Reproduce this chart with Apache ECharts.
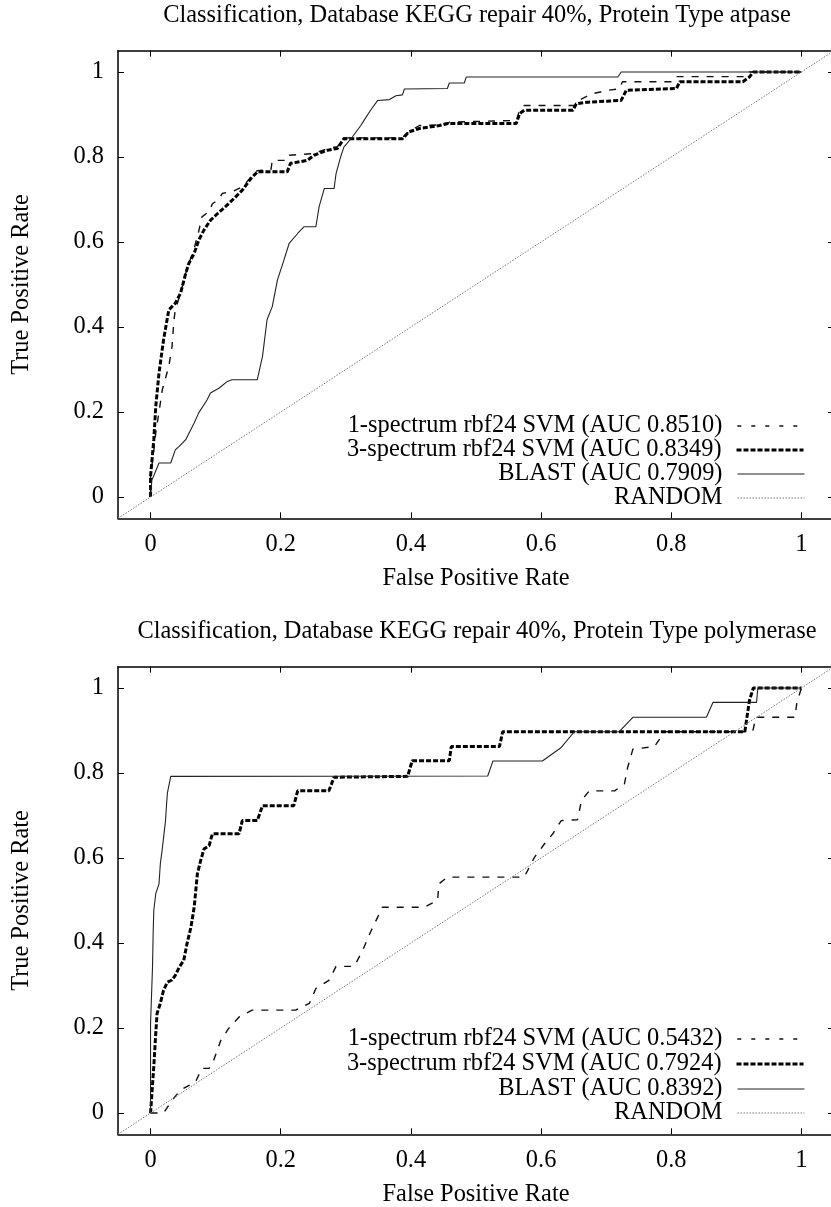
<!DOCTYPE html>
<html>
<head>
<meta charset="utf-8">
<script src="https://cdn.jsdelivr.net/npm/echarts@6/dist/echarts.min.js"></script>
<style>
  html, body { margin: 0; padding: 0; background: #fff; }
  #chart { width: 831px; height: 1207px; }
</style>
</head>
<body>
<div id="chart"></div>
<script>
// tick positions shared by both plots
const tickValues = [0, 0.2, 0.4, 0.6, 0.8, 1];

const titles = [
  "Classification, Database KEGG repair 40%, Protein Type atpase",
  "Classification, Database KEGG repair 40%, Protein Type polymerase",
];
const atpaseNames = [
  "1-spectrum rbf24 SVM (AUC 0.8510)",
  "3-spectrum rbf24 SVM (AUC 0.8349)",
  "BLAST (AUC 0.7909)",
  "RANDOM",
];
const polyNames = [
  "1-spectrum rbf24 SVM (AUC 0.5432)",
  "3-spectrum rbf24 SVM (AUC 0.7924)",
  "BLAST (AUC 0.8392)",
  "RANDOM",
];

// ROC points [false positive rate, true positive rate]
const atpaseSpec1 = [
  [0, 0], [0, 0.05], [0.005, 0.11], [0.008, 0.151], [0.013, 0.2], [0.018, 0.252],
  [0.028, 0.307], [0.033, 0.354], [0.036, 0.417], [0.038, 0.44], [0.046, 0.479],
  [0.054, 0.526], [0.059, 0.55], [0.067, 0.585], [0.074, 0.625], [0.079, 0.659],
  [0.09, 0.672], [0.095, 0.69], [0.105, 0.7], [0.11, 0.714], [0.128, 0.72],
  [0.141, 0.73], [0.154, 0.752], [0.164, 0.768], [0.185, 0.77], [0.187, 0.792],
  [0.21, 0.792], [0.213, 0.804], [0.251, 0.808], [0.272, 0.82], [0.287, 0.824],
  [0.297, 0.845], [0.387, 0.845], [0.397, 0.86], [0.413, 0.874], [0.456, 0.876],
  [0.459, 0.882], [0.562, 0.886], [0.567, 0.91], [0.574, 0.921], [0.652, 0.921],
  [0.66, 0.935], [0.679, 0.949], [0.703, 0.957], [0.72, 0.96], [0.725, 0.977],
  [0.8, 0.977], [0.805, 0.989], [0.915, 0.989], [0.92, 1], [1, 1],
];
const atpaseSpec3 = [
  [0, 0], [0, 0.049], [0.005, 0.135], [0.008, 0.213], [0.013, 0.292], [0.02, 0.37],
  [0.028, 0.44], [0.038, 0.456], [0.046, 0.479], [0.054, 0.526], [0.059, 0.55],
  [0.067, 0.573], [0.074, 0.604], [0.082, 0.628], [0.092, 0.651], [0.103, 0.667],
  [0.115, 0.683], [0.128, 0.702], [0.141, 0.722], [0.154, 0.749], [0.164, 0.765],
  [0.21, 0.765], [0.215, 0.785], [0.241, 0.792], [0.251, 0.804], [0.272, 0.816],
  [0.287, 0.82], [0.297, 0.843], [0.387, 0.843], [0.397, 0.859], [0.413, 0.867],
  [0.444, 0.874], [0.456, 0.879], [0.562, 0.879], [0.567, 0.902], [0.574, 0.91],
  [0.649, 0.91], [0.654, 0.925], [0.672, 0.929], [0.723, 0.933], [0.731, 0.957],
  [0.808, 0.961], [0.813, 0.977], [0.91, 0.977], [0.92, 0.988], [0.926, 1], [1, 1],
];
const atpaseBlast = [
  [0, 0], [0.002, 0.04], [0.005, 0.05], [0.013, 0.08], [0.031, 0.08], [0.038, 0.111],
  [0.044, 0.119], [0.054, 0.135], [0.067, 0.174], [0.074, 0.198], [0.087, 0.229],
  [0.092, 0.245], [0.105, 0.256], [0.118, 0.272], [0.125, 0.276], [0.164, 0.276],
  [0.172, 0.331], [0.179, 0.417], [0.187, 0.448], [0.195, 0.511], [0.205, 0.558],
  [0.213, 0.597], [0.226, 0.62], [0.236, 0.636], [0.254, 0.636], [0.259, 0.683],
  [0.267, 0.726], [0.282, 0.726], [0.285, 0.761], [0.292, 0.8], [0.297, 0.823],
  [0.31, 0.847], [0.323, 0.874], [0.328, 0.886], [0.338, 0.91], [0.349, 0.933],
  [0.367, 0.935], [0.377, 0.944], [0.387, 0.946], [0.39, 0.96], [0.456, 0.961],
  [0.459, 0.974], [0.482, 0.974], [0.485, 0.988], [0.718, 0.988], [0.723, 1], [1, 1],
];

const polySpec1 = [
  [0, 0], [0.02, 0], [0.033, 0.03], [0.046, 0.054], [0.069, 0.073], [0.079, 0.105],
  [0.09, 0.105], [0.097, 0.124], [0.108, 0.171], [0.12, 0.199], [0.136, 0.226],
  [0.156, 0.242], [0.223, 0.242], [0.244, 0.258], [0.254, 0.293], [0.274, 0.312],
  [0.285, 0.345], [0.313, 0.345], [0.326, 0.383], [0.338, 0.426], [0.349, 0.461],
  [0.356, 0.484], [0.42, 0.484], [0.441, 0.5], [0.443, 0.539], [0.456, 0.555],
  [0.574, 0.555], [0.59, 0.602], [0.605, 0.633], [0.618, 0.657], [0.631, 0.688],
  [0.656, 0.69], [0.662, 0.735], [0.674, 0.758], [0.713, 0.758], [0.728, 0.774],
  [0.733, 0.813], [0.741, 0.856], [0.774, 0.862], [0.79, 0.897], [0.925, 0.897],
  [0.93, 0.931], [0.99, 0.931], [0.993, 0.966], [1, 1],
];
const polySpec3 = [
  [0, 0], [0.003, 0], [0.005, 0.109], [0.008, 0.187], [0.01, 0.234], [0.015, 0.258],
  [0.02, 0.289], [0.026, 0.308], [0.033, 0.313], [0.038, 0.324], [0.044, 0.343],
  [0.051, 0.359], [0.056, 0.398], [0.062, 0.437], [0.067, 0.484], [0.072, 0.563],
  [0.077, 0.594], [0.082, 0.621], [0.09, 0.629], [0.095, 0.657], [0.136, 0.657],
  [0.141, 0.688], [0.164, 0.688], [0.172, 0.723], [0.22, 0.723], [0.226, 0.758],
  [0.274, 0.758], [0.282, 0.79], [0.395, 0.792], [0.402, 0.829], [0.459, 0.829],
  [0.462, 0.862], [0.536, 0.862], [0.541, 0.897], [0.913, 0.897], [0.92, 0.97],
  [0.926, 1], [1, 1],
];
const polyBlast = [
  [0, 0], [0, 0.21], [0.003, 0.343], [0.004, 0.422], [0.005, 0.477], [0.008, 0.516],
  [0.013, 0.539], [0.015, 0.586], [0.018, 0.621], [0.02, 0.625], [0.023, 0.688],
  [0.025, 0.735], [0.026, 0.754], [0.028, 0.758], [0.031, 0.792], [0.518, 0.793],
  [0.526, 0.828], [0.602, 0.828], [0.631, 0.86], [0.651, 0.897], [0.72, 0.897],
  [0.741, 0.931], [0.854, 0.931], [0.864, 0.966], [0.931, 0.966], [0.933, 1], [1, 1],
];
const randomLine = [[-0.05, -0.05], [1.05, 1.05]];

const FONT = "'Liberation Serif', 'DejaVu Serif', serif";
const FONT_SIZE = 24.4;
const styles = [
  { color: "#111", width: 1.4, type: [7, 8], legendType: [4, 10] },
  { color: "#000", width: 3, type: [5, 2], legendType: [5, 2] },
  { color: "#222", width: 1.1, type: "solid", legendType: "solid" },
  { color: "#777", width: 1, type: [1.5, 1.5], legendType: [1.5, 1.5] },
];

const gridTops = [50.7, 666.7];
const legendTops = [
  [414, 438, 462, 486],
  [1027, 1052, 1077, 1101],
];

const chart = echarts.init(document.getElementById("chart"));

function baseAxis(gridIndex, position, showLabel) {
  return {
    type: "value",
    gridIndex: gridIndex,
    position: position,
    min: -0.05,
    max: 1.05,
    splitLine: { show: false },
    axisLine: { show: true, onZero: false, lineStyle: { color: "#000", width: 1.5 } },
    axisTick: {
      show: true,
      inside: true,
      length: 6,
      customValues: tickValues,
      lineStyle: { color: "#000", width: 1 },
    },
    axisLabel: {
      show: showLabel,
      customValues: tickValues,
      margin: 14,
      color: "#000",
      fontFamily: FONT,
      fontSize: FONT_SIZE,
      formatter: (v) => String(+v.toFixed(2)),
    },
  };
}

const xAxes = [];
const yAxes = [];
const series = [];
const legends = [];
const seriesData = [
  [atpaseSpec1, atpaseSpec3, atpaseBlast, randomLine],
  [polySpec1, polySpec3, polyBlast, randomLine],
];
const names = [atpaseNames, polyNames];

[0, 1].forEach((g) => {
  const xb = baseAxis(g, "bottom", true);
  xb.name = "False Positive Rate";
  xb.nameLocation = "middle";
  xb.nameGap = 48;
  xb.nameTextStyle = { fontFamily: FONT, fontSize: FONT_SIZE, color: "#000" };
  xAxes.push(xb);
  xAxes.push(baseAxis(g, "top", false));

  const yl = baseAxis(g, "left", true);
  yl.name = "True Positive Rate";
  yl.nameLocation = "middle";
  yl.nameGap = 84;
  yl.nameTextStyle = { fontFamily: FONT, fontSize: FONT_SIZE, color: "#000" };
  yAxes.push(yl);
  yAxes.push(baseAxis(g, "right", false));

  seriesData[g].forEach((data, i) => {
    series.push({
      name: names[g][i],
      type: "line",
      xAxisIndex: g * 2,
      yAxisIndex: g * 2,
      data: data,
      symbol: "none",
      silent: true,
      animation: false,
      lineStyle: { color: styles[i].color, width: styles[i].width, type: styles[i].type },
      itemStyle: { color: styles[i].color },
    });
    legends.push({
      data: [names[g][i]],
      right: 26,
      top: legendTops[g][i],
      align: "right",
      padding: 0,
      itemWidth: 67,
      itemHeight: 12,
      selectedMode: false,
      itemStyle: { opacity: 0, color: "rgba(0,0,0,0)", borderWidth: 0 },
      lineStyle: { width: styles[i].width, type: styles[i].legendType, color: styles[i].color },
      textStyle: { fontFamily: FONT, fontSize: FONT_SIZE, color: "#000", padding: [0, 10, 0, 0] },
    });
  });
});

chart.setOption({
  backgroundColor: "#fff",
  animation: false,
  title: titles.map((t, g) => ({
    text: t,
    left: 477,
    textAlign: "center",
    top: g === 0 ? 4 : 620,
    padding: 0,
    textStyle: { fontFamily: FONT, fontSize: FONT_SIZE, fontWeight: "normal", color: "#000" },
  })),
  grid: gridTops.map((t) => ({
    left: 118,
    top: t,
    width: 716,
    height: 467.6,
    containLabel: false,
    outerBoundsMode: "none",
  })),
  legend: legends,
  xAxis: xAxes,
  yAxis: yAxes,
  series: series,
});
</script>
</body>
</html>
